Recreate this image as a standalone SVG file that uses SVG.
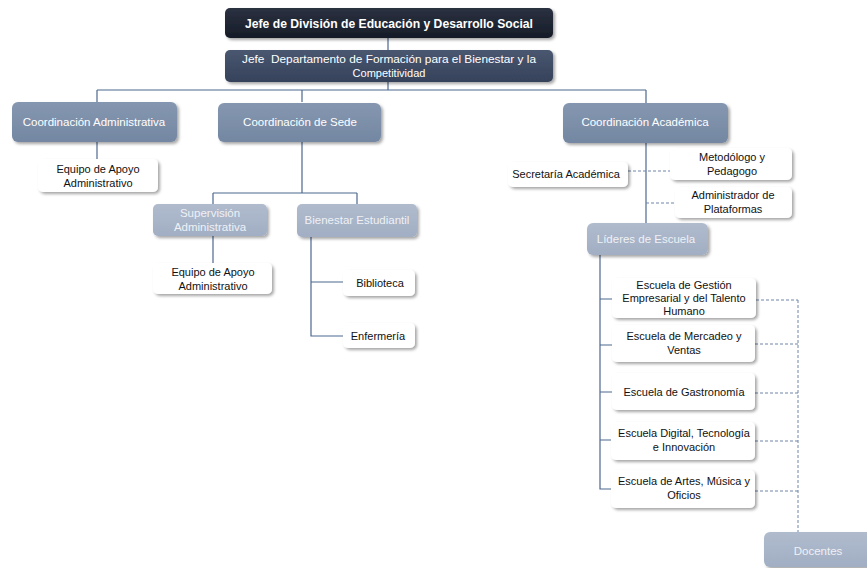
<svg xmlns="http://www.w3.org/2000/svg" width="867" height="568" viewBox="0 0 867 568">
<defs>
<filter id="sh" x="-10%" y="-20%" width="125%" height="150%">
<feDropShadow dx="2" dy="2" stdDeviation="1.5" flood-color="#000" flood-opacity="0.35"/>
</filter>
<linearGradient id="gTop" x1="0" y1="0" x2="0" y2="1"><stop offset="0" stop-color="#2a3242"/><stop offset="1" stop-color="#161c27"/></linearGradient>
<linearGradient id="gSec" x1="0" y1="0" x2="0" y2="1"><stop offset="0" stop-color="#4a5770"/><stop offset="1" stop-color="#35425a"/></linearGradient>
<linearGradient id="gMid" x1="0" y1="0" x2="0" y2="1"><stop offset="0" stop-color="#8597b0"/><stop offset="1" stop-color="#7487a2"/></linearGradient>
<linearGradient id="gLt" x1="0" y1="0" x2="0" y2="1"><stop offset="0" stop-color="#b0bbcd"/><stop offset="1" stop-color="#a1aec3"/></linearGradient>
</defs>
<style>
text{font-family:"Liberation Sans",Arial,sans-serif;text-anchor:middle}
.top{fill:url(#gTop);filter:url(#sh)}
.sec{fill:url(#gSec);filter:url(#sh)}
.mid{fill:url(#gMid);filter:url(#sh)}
.lt{fill:url(#gLt);filter:url(#sh)}
.wh{fill:#fff;filter:url(#sh)}
.tw{fill:#fff;font-size:11.5px}
.tl{fill:#eef1f6;font-size:11.5px}
.tb{fill:#111;font-size:11px}
.ln{stroke:#4d6890;stroke-width:1.2;fill:none}
.ds{stroke:#6f86a8;stroke-width:1;fill:none;stroke-dasharray:3 2}
</style>
<rect width="867" height="568" fill="#fff"/>
<g id="connectors">
<path class="ln" d="M388 38V50M388 82V90M97 90H646M97 90V102M302 90V102M646 90V103"/>
<path class="ln" d="M97 142V159"/>
<path class="ln" d="M302 142V193M213 193H357M213 193V204M357 193V204"/>
<path class="ln" d="M213 236V263"/>
<path class="ln" d="M311 237V336H343M311 282H343"/>
<path class="ln" d="M646 143V223"/>
<path class="ln" d="M600 255V489H612M600 299H612M600 345H612M600 392H612M600 440H612"/>
<path class="ds" d="M628 171H670M646 203H675"/>
<path class="ds" d="M756 300H798M755 344H798M755 393H798M755 441H798M755 491H798M798 300V532"/>
</g>
<g id="n-jefe-division"><rect class="top" x="225" y="8" width="328" height="30" rx="5"/><text x="389" y="28" fill="#fff" font-size="13" font-weight="bold" textLength="288" lengthAdjust="spacingAndGlyphs">Jefe de División de Educación y Desarrollo Social</text></g>
<g id="n-jefe-depto"><rect class="sec" x="225" y="50" width="328" height="32" rx="5"/><text x="389" y="63" fill="#fff" font-size="11" textLength="294" lengthAdjust="spacingAndGlyphs" xml:space="preserve">Jefe  Departamento de Formación para el Bienestar y la</text><text x="389" y="77" fill="#fff" font-size="11">Competitividad</text></g>
<g id="n-coord-admin"><rect class="mid" x="12" y="102" width="165" height="40" rx="6"/><text class="tw" x="94" y="126">Coordinación Administrativa</text></g>
<g id="n-coord-sede"><rect class="mid" x="218" y="103" width="163" height="39" rx="6"/><text class="tw" x="300" y="126">Coordinación de Sede</text></g>
<g id="n-coord-acad"><rect class="mid" x="563" y="103" width="165" height="40" rx="6"/><text class="tw" x="645" y="126">Coordinación Académica</text></g>
<g id="n-equipo1"><rect class="wh" x="38" y="159" width="120" height="33" rx="5"/><text class="tb" x="98" y="173">Equipo de Apoyo</text><text class="tb" x="98" y="187">Administrativo</text></g>
<g id="n-supervision"><rect class="lt" x="153" y="204" width="114" height="32" rx="5"/><text class="tl" x="210" y="217">Supervisión</text><text class="tl" x="210" y="231">Administrativa</text></g>
<g id="n-bienestar"><rect class="lt" x="297" y="204" width="120" height="33" rx="5"/><text class="tl" x="357" y="224">Bienestar Estudiantil</text></g>
<g id="n-equipo2"><rect class="wh" x="153" y="263" width="119" height="31" rx="5"/><text class="tb" x="213" y="276">Equipo de Apoyo</text><text class="tb" x="213" y="290">Administrativo</text></g>
<g id="n-biblioteca"><rect class="wh" x="343" y="270" width="72" height="26" rx="5"/><text class="tb" x="380" y="287">Biblioteca</text></g>
<g id="n-enfermeria"><rect class="wh" x="343" y="323" width="72" height="25" rx="5"/><text class="tb" x="378" y="340">Enfermería</text></g>
<g id="n-secretaria"><rect class="wh" x="508" y="162" width="120" height="25" rx="5"/><text class="tb" x="566" y="178">Secretaría Académica</text></g>
<g id="n-metodologo"><rect class="wh" x="670" y="148" width="122" height="32" rx="5"/><text class="tb" x="732" y="161">Metodólogo y</text><text class="tb" x="732" y="175">Pedagogo</text></g>
<g id="n-admin-plat"><rect class="wh" x="675" y="187" width="117" height="31" rx="5"/><text class="tb" x="733" y="199">Administrador de</text><text class="tb" x="733" y="213">Plataformas</text></g>
<g id="n-lideres"><rect class="lt" x="587" y="223" width="121" height="32" rx="6"/><text class="tl" x="646" y="243" font-size="11">Líderes de Escuela</text></g>
<g id="n-esc-gestion"><rect class="wh" x="612" y="278" width="144" height="40" rx="5"/><text class="tb" x="684" y="289">Escuela de Gestión</text><text class="tb" x="684" y="302">Empresarial y del Talento</text><text class="tb" x="684" y="315">Humano</text></g>
<g id="n-esc-mercadeo"><rect class="wh" x="612" y="325" width="143" height="37" rx="5"/><text class="tb" x="684" y="340">Escuela de Mercadeo y</text><text class="tb" x="684" y="354">Ventas</text></g>
<g id="n-esc-gastro"><rect class="wh" x="612" y="373" width="143" height="37" rx="5"/><text class="tb" x="684" y="396">Escuela de Gastronomía</text></g>
<g id="n-esc-digital"><rect class="wh" x="611" y="422" width="144" height="38" rx="5"/><text class="tb" x="684" y="437">Escuela Digital, Tecnología</text><text class="tb" x="684" y="451">e Innovación</text></g>
<g id="n-esc-artes"><rect class="wh" x="611" y="470" width="144" height="38" rx="5"/><text class="tb" x="684" y="485">Escuela de Artes, Música y</text><text class="tb" x="684" y="499">Oficios</text></g>
<g id="n-docentes"><rect class="lt" x="764" y="532" width="110" height="35" rx="6"/><text class="tl" x="818" y="555" font-size="14">Docentes</text></g>
</svg>
